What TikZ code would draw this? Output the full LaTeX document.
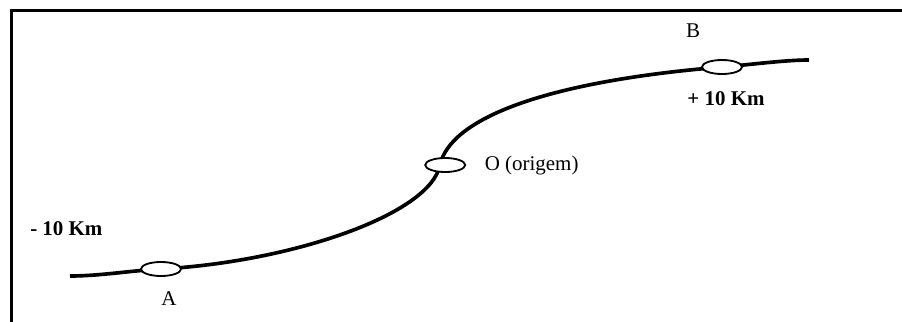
\documentclass[tikz,border=0pt]{standalone}
\usepackage{fontspec}
\setmainfont{Liberation Serif}
\usetikzlibrary{positioning,shapes.geometric}

\begin{document}
\begin{tikzpicture}[
    x=0.025cm, y=-0.025cm,
    font=\fontsize{14.9}{17}\selectfont,
    frame/.style={draw, line width=2.8pt},
    road/.style={draw, line width=2.6pt, line cap=butt},
    stopmark/.style={ellipse, draw, fill=white, line width=1.3pt, minimum width=1cm, minimum height=0.35cm, inner sep=0pt},
    lbl/.style={inner sep=0pt},
    kmlbl/.style={lbl, font=\fontsize{14.9}{17}\selectfont\bfseries},
    node distance=4mm,
]
\useasboundingbox (0,0) rectangle (902,322);
\begin{scope}
\clip (0,0) rectangle (902,322);
\draw[frame] (11.5,10.5) rectangle (915,335);
\end{scope}
% points on the road
\coordinate (start) at (70,276);
\coordinate (pA) at (161,269);
\coordinate (pO) at (440,165);
\coordinate (pB) at (722,67);
\coordinate (finish) at (809,60);
\draw[road] (start) .. controls (100,276) and (130,270.7) .. (pA)
    .. controls (290,262) and (430,215) .. (pO)
    .. controls (450,120) and (540,82) .. (pB)
    .. controls (752,64.5) and (785,60) .. (finish);
\node[stopmark] (stopA) at (pA) {};
\node[stopmark] (stopO) at ([xshift=1.3mm]pO) {};
\node[stopmark] (stopB) at (pB) {};
\node[lbl, below=3.7mm of stopA, xshift=2mm] (lblA) {A};
\node[lbl, right=4.6mm of stopO] (lblO) {O (origem)};
\node[lbl, above=5.2mm of stopB, xshift=-7.2mm] (lblB) {B};
\node[kmlbl, below=4mm of stopB, xshift=1mm] (kmB) {+ 10 Km};
\node[kmlbl, anchor=west] (kmA) at (30,229) {- 10 Km};
\end{tikzpicture}
\end{document}
